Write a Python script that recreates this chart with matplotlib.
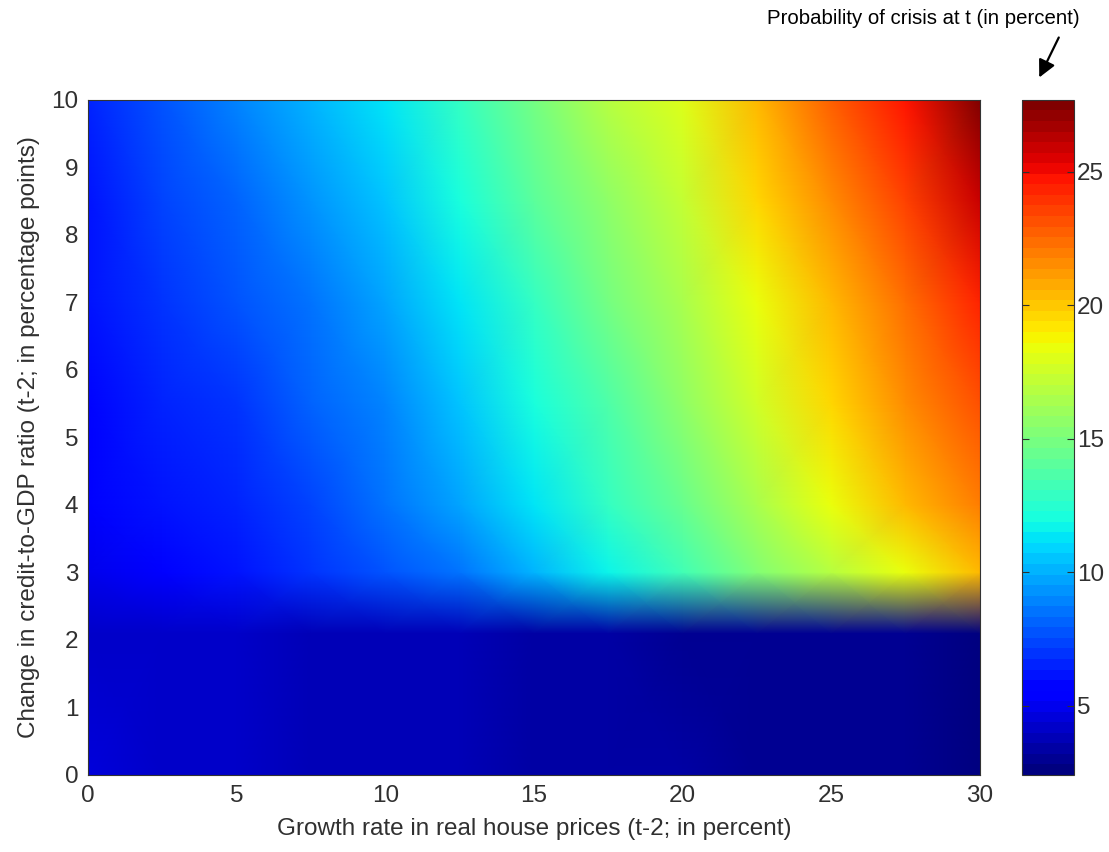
import numpy as np
import matplotlib
matplotlib.use('Agg')
import matplotlib.pyplot as plt

# grille : croissance des prix immobiliers (x) et variation credit/PIB (y)
house_growth = [0, 2.5, 5, 7.5, 10, 12.5, 15, 17.5, 20, 22.5, 25, 27.5, 30]
credit_change = [0, 2.1, 3.0, 4.0, 5.5, 7.0, 8.5, 10.0]

# probabilite de crise (en pourcent), une ligne par valeur de credit_change
prob_y00 = [4.4, 4.3, 4.1, 3.9, 3.8, 3.6, 3.5, 3.3, 3.2, 3.0, 2.9, 2.8, 2.7]
prob_y21 = [4.3, 4.2, 4.0, 3.9, 3.7, 3.6, 3.4, 3.3, 3.1, 3.0, 2.9, 2.8, 2.7]
prob_y30 = [5.0, 5.5, 6.1, 6.8, 7.6, 8.6, 10.0, 11.7, 13.4, 15.1, 16.9, 18.6, 20.5]
prob_y40 = [5.4, 6.0, 6.7, 7.5, 8.4, 9.6, 11.2, 12.9, 14.6, 16.6, 18.6, 20.3, 22.0]
prob_y55 = [5.7, 6.4, 7.1, 8.0, 9.0, 10.4, 12.0, 13.8, 15.6, 17.5, 19.5, 21.4, 23.2]
prob_y70 = [6.0, 6.8, 7.6, 8.5, 9.6, 11.2, 12.9, 14.8, 16.6, 18.5, 20.5, 22.5, 24.5]
prob_y85 = [6.3, 7.2, 8.2, 9.2, 10.4, 12.1, 13.9, 15.8, 17.4, 19.4, 21.6, 23.7, 26.0]
prob_y100 = [6.5, 7.6, 8.8, 10.0, 11.3, 13.0, 14.9, 16.8, 18.2, 20.3, 22.8, 24.9, 27.7]

cbar_ticks = [5, 10, 15, 20, 25]
vmin, vmax = 2.4, 27.7

Z = np.array([prob_y00, prob_y21, prob_y30, prob_y40, prob_y55, prob_y70, prob_y85, prob_y100])
X, Y = np.meshgrid(house_growth, credit_change)

plt.rcParams['font.family'] = ['Liberation Sans', 'DejaVu Sans']
taille = 17.5

fig = plt.figure(figsize=(11.09, 8.52), dpi=100)
ax = fig.add_axes([0.0794, 0.0904, 0.8043, 0.7923])
cax = fig.add_axes([0.9216, 0.0904, 0.0469, 0.7923])

# shading gouraud : interpolation des couleurs comme le "shading interp"
mesh = ax.pcolormesh(X, Y, Z, shading='gouraud', cmap=plt.get_cmap('jet', 64), vmin=vmin, vmax=vmax)
ax.set_xlim(0, 30)
ax.set_ylim(0, 10)
ax.set_xticks(range(0, 31, 5))
ax.set_yticks(range(0, 11))
ax.tick_params(length=0, colors='#303030', pad=7, labelsize=taille)
ax.set_xlabel('Growth rate in real house prices (t-2; in percent)', fontsize=taille,
              color='#303030', labelpad=8)
ax.set_ylabel('Change in credit-to-GDP ratio (t-2; in percentage points)', fontsize=taille,
              color='#303030', labelpad=8)
for s in ax.spines.values():
    s.set_linewidth(0.8)
    s.set_color('#333333')

cb = fig.colorbar(mesh, cax=cax)
cb.set_ticks(cbar_ticks)
cax.tick_params(direction='in', length=5, colors='#303030', left=True, right=True, pad=2, labelsize=taille)
cb.outline.set_linewidth(0.8)
cb.outline.set_edgecolor('#333333')

# titre de la barre de couleur avec la fleche
fig.text(1080 / 1109, 1 - 9 / 852, 'Probability of crisis at t (in percent)', ha='right', va='top', fontsize=14.7)
ax.annotate('', xy=(1038 / 1109, 1 - 80 / 852), xytext=(1060 / 1109, 1 - 35 / 852),
            xycoords='figure fraction', textcoords='figure fraction',
            arrowprops=dict(arrowstyle='-|>', color='black', lw=1.6, mutation_scale=26))

plt.savefig('out.png', dpi=100)
